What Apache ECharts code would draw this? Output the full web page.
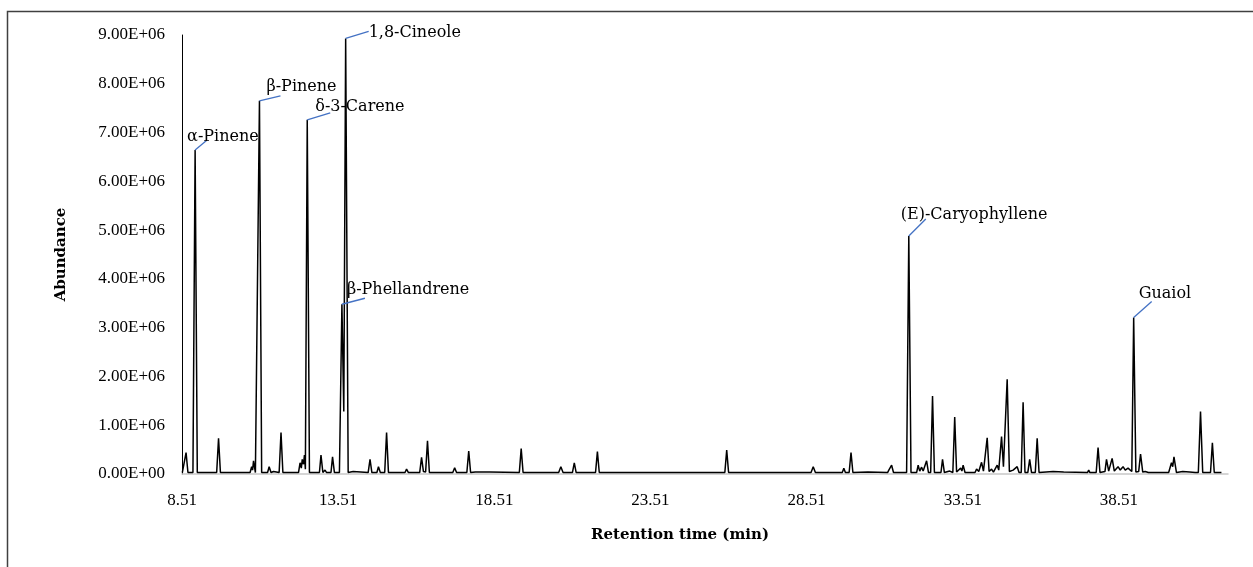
<!DOCTYPE html>
<html>
<head>
<meta charset="utf-8">
<script src="https://cdn.jsdelivr.net/npm/echarts@6/dist/echarts.min.js"></script>
<style>
  html, body { margin: 0; padding: 0; background: #fff; }
  #chart { width: 1253px; height: 567px; }
</style>
</head>
<body>
<div id="chart"></div>
<script>
// retention time (min) and abundance (x1E+06)
const retentionTime = [
  8.52, 8.58, 8.64, 8.70,
  8.86, 8.93, 9.00,
  9.62, 9.68, 9.74,
  10.69, 10.74, 10.77, 10.80, 10.86,
  10.92, 10.99, 11.06,
  11.25, 11.30, 11.36, 11.44, 11.50,
  11.62, 11.68, 11.74,
  12.24, 12.29, 12.33, 12.36, 12.40, 12.43, 12.46, 12.52, 12.59,
  12.91, 12.96, 13.02, 13.09, 13.14,
  13.28, 13.33, 13.39,
  13.55, 13.63, 13.69, 13.75, 13.83,
  13.99, 14.05,
  14.47, 14.53, 14.59,
  14.75, 14.80, 14.86,
  15.00, 15.06, 15.12,
  15.65, 15.70, 15.76,
  16.12, 16.18, 16.24, 16.31, 16.37, 16.43,
  17.18, 17.24, 17.30,
  17.63, 17.69, 17.75, 17.90, 17.95,
  18.36, 18.42,
  19.31, 19.37, 19.43,
  20.57, 20.64, 20.71,
  21.01, 21.07, 21.13,
  21.75, 21.81, 21.87,
  25.89, 25.95, 26.01,
  28.65, 28.72, 28.79,
  29.65, 29.70, 29.75,
  29.87, 29.93, 29.99,
  30.47, 30.53,
  31.10, 31.14, 31.23, 31.29,
  31.71, 31.78, 31.85,
  32.03, 32.08, 32.13, 32.19, 32.24, 32.30, 32.35, 32.41,
  32.48, 32.54, 32.60,
  32.81, 32.86, 32.92, 33.09,
  33.19, 33.25, 33.31, 33.44, 33.48, 33.52, 33.58,
  33.90, 33.95, 34.02, 34.11, 34.17, 34.29, 34.35, 34.43, 34.49, 34.61, 34.66, 34.75, 34.81, 34.93, 35.00,
  35.12, 35.18, 35.25, 35.31,
  35.38, 35.44, 35.50,
  35.59, 35.65, 35.71,
  35.83, 35.89, 35.95,
  36.40, 36.46, 36.74, 36.80,
  37.50, 37.54, 37.58,
  37.78, 37.84, 37.90,
  38.06, 38.11, 38.18, 38.29, 38.36, 38.48, 38.55, 38.64, 38.71, 38.80, 38.86,
  38.92, 38.98, 39.05, 39.14, 39.20, 39.27, 39.35, 39.45,
  40.10, 40.19, 40.23, 40.27, 40.35, 40.55, 40.77, 40.95,
  41.05, 41.12, 41.19,
  41.44, 41.50, 41.56,
  41.79
];
const abundance = [
  0.03, 0.03, 0.44, 0.03,
  0.03, 6.64, 0.03,
  0.03, 0.73, 0.03,
  0.03, 0.15, 0.08, 0.27, 0.03,
  0.03, 7.65, 0.03,
  0.03, 0.15, 0.03, 0.05, 0.03,
  0.03, 0.85, 0.03,
  0.03, 0.23, 0.12, 0.30, 0.20, 0.39, 0.10, 7.26, 0.03,
  0.03, 0.39, 0.03, 0.08, 0.03,
  0.03, 0.35, 0.03,
  0.03, 3.48, 1.28, 8.93, 0.03,
  0.05, 0.03,
  0.03, 0.30, 0.03,
  0.03, 0.15, 0.03,
  0.03, 0.85, 0.03,
  0.03, 0.10, 0.03,
  0.03, 0.34, 0.05, 0.04, 0.68, 0.03,
  0.03, 0.13, 0.03,
  0.03, 0.47, 0.03, 0.04, 0.03,
  0.04, 0.03,
  0.03, 0.52, 0.03,
  0.03, 0.15, 0.03,
  0.03, 0.23, 0.03,
  0.03, 0.46, 0.03,
  0.03, 0.49, 0.03,
  0.03, 0.15, 0.03,
  0.03, 0.12, 0.03,
  0.03, 0.44, 0.03,
  0.04, 0.03,
  0.03, 0.08, 0.18, 0.03,
  0.03, 4.88, 0.03,
  0.03, 0.18, 0.06, 0.14, 0.06, 0.05, 0.27, 0.03,
  0.03, 1.60, 0.03,
  0.03, 0.30, 0.03, 0.06,
  0.03, 1.17, 0.04, 0.12, 0.06, 0.18, 0.03,
  0.03, 0.10, 0.05, 0.24, 0.06, 0.74, 0.05, 0.10, 0.04, 0.18, 0.08, 0.77, 0.15, 1.94, 0.05,
  0.08, 0.04, 0.15, 0.03,
  0.03, 1.47, 0.03,
  0.03, 0.30, 0.03,
  0.03, 0.73, 0.03,
  0.05, 0.03, 0.04, 0.03,
  0.03, 0.08, 0.03,
  0.03, 0.54, 0.03,
  0.05, 0.30, 0.06, 0.32, 0.06, 0.15, 0.08, 0.15, 0.08, 0.12, 0.08,
  0.05, 3.21, 0.04, 0.05, 0.41, 0.04, 0.05, 0.03,
  0.03, 0.23, 0.15, 0.35, 0.03, 0.05, 0.04, 0.03,
  0.03, 1.28, 0.03,
  0.03, 0.64, 0.03,
  0.03
];

// labelled compounds
const compoundNames = ['\u03b1-Pinene', '\u03b2-Pinene', '\u03b4-3-Carene', '1,8-Cineole', '\u03b2-Phellandrene', '(E)-Caryophyllene', 'Guaiol'];
const compoundTimes = [8.93, 10.99, 12.52, 13.75, 13.63, 31.78, 38.98];
const compoundAbundance = [6.64, 7.65, 7.26, 8.93, 3.48, 4.88, 3.21];

// pixel offsets from the peak top: [leader dx, leader dy, text dx, text dy]
const labelOffsets = [
  [12, -10, -8, -13],
  [21, -5, 7, -14],
  [23, -7, 8, -13],
  [23, -7, 23, -6],
  [23, -6, 5, -14],
  [17, -17, -8, -21],
  [18, -16, 5, -24]
];

const xStart = 8.51;
const xTickStep = 5;
const yTicks = [0, 1, 2, 3, 4, 5, 6, 7, 8, 9];

const chart = echarts.init(document.getElementById('chart'));

const lineData = retentionTime.map((t, i) => [t - xStart, abundance[i]]);
const peakData = compoundTimes.map((t, i) => [t - xStart, compoundAbundance[i], compoundNames[i]]);

const tickFont = 'Liberation Serif';

chart.setOption({
  animation: false,
  graphic: [{
    type: 'rect',
    shape: { x: 7.5, y: 11.5, width: 1280, height: 600 },
    style: { fill: 'none', stroke: '#404040', lineWidth: 1.5 },
    silent: true
  }],
  grid: { left: 182, right: 25, top: 35, bottom: 93 },
  xAxis: {
    type: 'value',
    min: 0,
    max: 33.49,
    interval: xTickStep,
    name: 'Retention time (min)',
    nameLocation: 'middle',
    nameGap: 54,
    nameTextStyle: {
      fontFamily: 'DejaVu Serif', fontWeight: 'bold', fontSize: 15, color: '#000',
      padding: [0, 50, 0, 0]
    },
    axisLine: { show: true, lineStyle: { color: '#c8c8c8', width: 1.5 } },
    axisTick: { show: false },
    splitLine: { show: false },
    axisLabel: {
      showMaxLabel: false,
      margin: 18,
      fontFamily: tickFont, fontSize: 17, color: '#000',
      formatter: v => (v + xStart).toFixed(2)
    }
  },
  yAxis: {
    type: 'value',
    min: yTicks[0],
    max: yTicks[yTicks.length - 1],
    interval: 1,
    name: 'Abundance',
    nameLocation: 'middle',
    nameGap: 113,
    nameTextStyle: { fontFamily: 'DejaVu Serif', fontWeight: 'bold', fontSize: 15, color: '#000' },
    axisLine: { show: true, lineStyle: { color: '#000', width: 1 } },
    axisTick: { show: false },
    splitLine: { show: false },
    axisLabel: {
      margin: 17,
      fontFamily: tickFont, fontSize: 17, color: '#000',
      formatter: v => v === 0 ? '0.00E+00' : v.toFixed(2) + 'E+06'
    }
  },
  series: [
    {
      type: 'line',
      data: lineData,
      showSymbol: false,
      symbol: 'none',
      lineStyle: { color: '#000', width: 1.5 },
      z: 3
    },
    {
      type: 'custom',
      data: peakData,
      encode: { x: 0, y: 1 },
      clip: false,
      z: 4,
      renderItem: (params, api) => {
        const p = api.coord([api.value(0), api.value(1)]);
        const o = labelOffsets[params.dataIndex];
        return {
          type: 'group',
          children: [
            {
              type: 'line',
              shape: { x1: p[0], y1: p[1], x2: p[0] + o[0], y2: p[1] + o[1] },
              style: { stroke: '#4472C4', lineWidth: 1.3 }
            },
            {
              type: 'text',
              style: {
                text: compoundNames[params.dataIndex],
                x: p[0] + o[2],
                y: p[1] + o[3],
                align: 'left',
                verticalAlign: 'middle',
                font: '16px "DejaVu Serif"',
                fill: '#000'
              }
            }
          ]
        };
      }
    }
  ]
});
</script>
</body>
</html>
